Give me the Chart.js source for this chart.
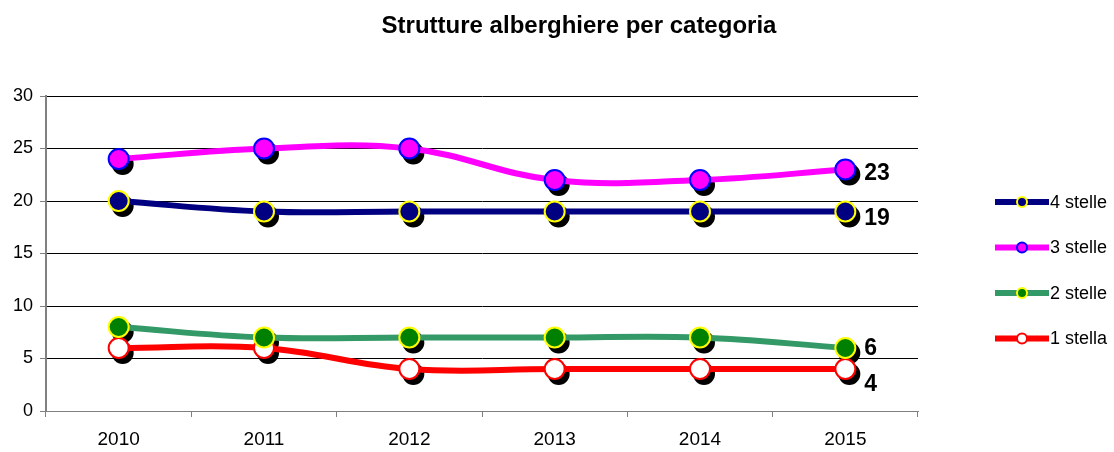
<!DOCTYPE html>
<html>
<head>
<meta charset="utf-8">
<script src="https://cdn.jsdelivr.net/npm/chart.js@4/dist/chart.umd.min.js"></script>
<style>
  html, body { margin: 0; padding: 0; background: #fff; }
  #wrap { width: 1114px; height: 452px; }
</style>
</head>
<body>
<div id="wrap"><canvas id="chart" width="1114" height="452"></canvas></div>
<script>
const years = ['2010', '2011', '2012', '2013', '2014', '2015'];
const stelle4 = [20, 19, 19, 19, 19, 19];
const stelle3 = [24, 25, 25, 22, 22, 23];
const stelle2 = [8, 7, 7, 7, 7, 6];
const stella1 = [6, 6, 4, 4, 4, 4];
const yTicks = [0, 5, 10, 15, 20, 25, 30];

const FONT = 'Arial, "Liberation Sans", sans-serif';

// label shifts for the last value of each series (Excel-style placement)
const endLabelDy = [7, 4, 1, 16];

function series(label, data, line, fill, border) {
  return {
    label,
    data,
    borderColor: line,
    backgroundColor: line,
    borderWidth: 6,
    tension: 0.4,
    pointRadius: 10,
    pointHoverRadius: 10,
    pointBackgroundColor: fill,
    pointBorderColor: border,
    pointBorderWidth: 2,
  };
}

/* black drop shadow under every marker */
const markerShadow = {
  id: 'markerShadow',
  beforeDatasetsDraw(chart) {
    const { ctx } = chart;
    ctx.save();
    ctx.fillStyle = '#000';
    chart.data.datasets.forEach((ds, i) => {
      chart.getDatasetMeta(i).data.forEach(pt => {
        ctx.beginPath();
        ctx.arc(pt.x + 4, pt.y + 5, 11, 0, Math.PI * 2);
        ctx.fill();
      });
    });
    ctx.restore();
  },
};

/* title, end-of-line values and right hand legend */
const decorations = {
  id: 'decorations',
  afterDraw(chart) {
    const { ctx } = chart;
    ctx.save();

    ctx.fillStyle = '#000';
    ctx.font = 'bold 24px ' + FONT;
    ctx.textAlign = 'center';
    ctx.textBaseline = 'middle';
    ctx.fillText('Strutture alberghiere per categoria', 579, 26);

    ctx.font = 'bold 23px ' + FONT;
    ctx.textAlign = 'left';
    chart.data.datasets.forEach((ds, i) => {
      const meta = chart.getDatasetMeta(i);
      const last = meta.data[meta.data.length - 1];
      ctx.fillText(String(ds.data[ds.data.length - 1]), last.x + 19, last.y + endLabelDy[i]);
    });

    ctx.font = '18px ' + FONT;
    chart.data.datasets.forEach((ds, i) => {
      const y = 202 + i * 45.5;
      ctx.strokeStyle = ds.borderColor;
      ctx.lineWidth = 6;
      ctx.beginPath();
      ctx.moveTo(995, y);
      ctx.lineTo(1049, y);
      ctx.stroke();
      ctx.beginPath();
      ctx.arc(1022, y, 5, 0, Math.PI * 2);
      ctx.fillStyle = ds.pointBackgroundColor;
      ctx.fill();
      ctx.lineWidth = 2;
      ctx.strokeStyle = ds.pointBorderColor;
      ctx.stroke();
      ctx.fillStyle = '#000';
      ctx.fillText(ds.label, 1050, y + 1);
    });

    ctx.restore();
  },
};

new Chart(document.getElementById('chart').getContext('2d'), {
  type: 'line',
  data: {
    labels: years,
    datasets: [
      series('4 stelle', stelle4, '#000080', '#000080', '#FFFF00'),
      series('3 stelle', stelle3, '#FF00FF', '#FF00FF', '#0000FF'),
      series('2 stelle', stelle2, '#339966', '#008000', '#FFFF00'),
      series('1 stella', stella1, '#FF0000', '#FFFFFF', '#FF0000'),
    ],
  },
  options: {
    responsive: false,
    animation: false,
    layout: { padding: { top: 96, right: 196, bottom: 0, left: 0 } },
    plugins: {
      legend: { display: false },
      tooltip: { enabled: false },
      title: { display: false },
    },
    scales: {
      x: {
        offset: true,
        grid: {
          offset: true,
          drawOnChartArea: false,
          drawTicks: true,
          tickLength: 6,
          color: '#808080',
        },
        border: { color: '#808080', width: 1 },
        ticks: { color: '#000', font: { family: FONT, size: 19 }, padding: 11 },
        afterFit(scale) { scale.height = 41; },
      },
      y: {
        min: 0,
        max: 30,
        afterBuildTicks(scale) { scale.ticks = yTicks.map(v => ({ value: v })); },
        grid: { color: '#000', lineWidth: 1, tickLength: 6, tickColor: '#808080' },
        border: { color: '#808080', width: 2 },
        ticks: { color: '#000', font: { family: FONT, size: 18 }, padding: 7 },
        afterFit(scale) { scale.width = 46; },
      },
    },
  },
  plugins: [markerShadow, decorations],
});
</script>
</body>
</html>
